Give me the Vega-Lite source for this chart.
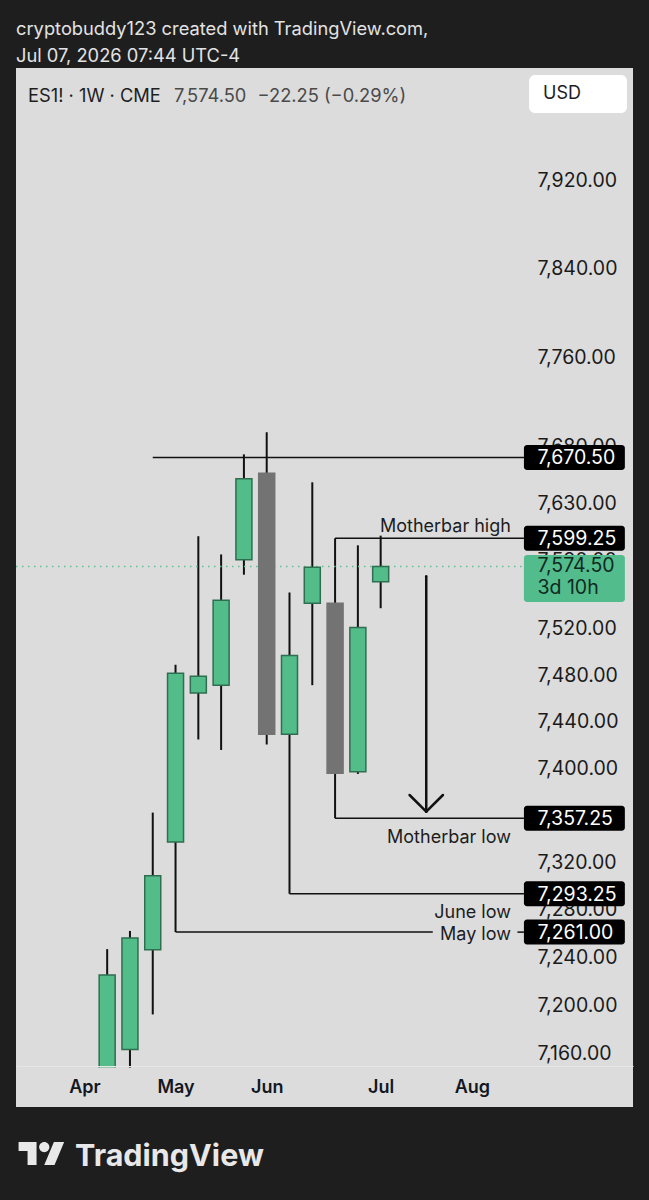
{
  "$schema": "https://vega.github.io/schema/vega-lite/v6.json",
  "width": 617,
  "height": 1039,
  "autosize": {"type": "none"},
  "padding": {"left": 16, "top": 68, "right": 16, "bottom": 93},
  "background": "#1e1e1e",
  "config": {"view": {"stroke": null, "fill": "#dcdcdc"}, "font": "Inter"},
  "title": {
    "text": ["cryptobuddy123 created with TradingView.com,", "Jul 07, 2026 07:44 UTC-4"],
    "anchor": "start",
    "frame": "group",
    "color": "#e3e3e3",
    "font": "Inter",
    "fontSize": 18.3,
    "fontWeight": "normal",
    "lineHeight": 26.7,
    "offset": 2
  },
  "data": {"values": [{}]},
  "datasets": {
    "candles": [
      {"date": "2026-04-13", "open": 7130.00, "high": 7246.75, "low": 7118.00, "close": 7225.00},
      {"date": "2026-04-20", "open": 7163.25, "high": 7262.00, "low": 7140.00, "close": 7256.00},
      {"date": "2026-04-27", "open": 7246.25, "high": 7362.00, "low": 7192.25, "close": 7308.50},
      {"date": "2026-05-04", "open": 7337.00, "high": 7489.00, "low": 7261.00, "close": 7481.50},
      {"date": "2026-05-11", "open": 7464.50, "high": 7601.00, "low": 7424.50, "close": 7479.00},
      {"date": "2026-05-18", "open": 7471.25, "high": 7585.00, "low": 7415.50, "close": 7545.00},
      {"date": "2026-05-25", "open": 7580.25, "high": 7673.25, "low": 7567.25, "close": 7651.75},
      {"date": "2026-06-01", "open": 7656.50, "high": 7693.00, "low": 7420.25, "close": 7429.00},
      {"date": "2026-06-08", "open": 7429.00, "high": 7551.75, "low": 7293.25, "close": 7497.00},
      {"date": "2026-06-15", "open": 7542.25, "high": 7648.50, "low": 7471.25, "close": 7573.75},
      {"date": "2026-06-22", "open": 7542.25, "high": 7599.25, "low": 7357.25, "close": 7395.50},
      {"date": "2026-06-29", "open": 7396.75, "high": 7593.00, "low": 7395.00, "close": 7521.25},
      {"date": "2026-07-06", "open": 7561.00, "high": 7601.50, "low": 7538.00, "close": 7574.50}
    ],
    "levels": [
      {"price": 7670.50, "from": "2026-04-27", "to": "2026-08-19"},
      {"price": 7599.25, "from": "2026-06-22", "to": "2026-08-19", "label": "Motherbar high"},
      {"price": 7357.25, "from": "2026-06-22", "to": "2026-08-19", "label": "Motherbar low"},
      {"price": 7293.25, "from": "2026-06-08", "to": "2026-08-19", "label": "June low"},
      {"price": 7261.00, "from": "2026-05-04", "to": "2026-07-22", "label": "May low"},
      {"price": 7261.00, "from": "2026-08-17", "to": "2026-08-19"}
    ],
    "pricetags": [
      {"price": 7670.50},
      {"price": 7599.25},
      {"price": 7357.25},
      {"price": 7293.25},
      {"price": 7261.00}
    ],
    "arrow": [
      {"x1": "2026-07-20T00:00:00Z", "y1": 7566.0, "x2": "2026-07-20T00:00:00Z", "y2": 7362.75},
      {"x1": "2026-07-14T21:00:00Z", "y1": 7377.0, "x2": "2026-07-20T00:00:00Z", "y2": 7362.75},
      {"x1": "2026-07-25T03:00:00Z", "y1": 7377.0, "x2": "2026-07-20T00:00:00Z", "y2": 7362.75}
    ]
  },
  "layer": [
    {
      "data": {"name": "candles"},
      "mark": {"type": "rule", "color": "#111111", "strokeWidth": 2},
      "encoding": {
        "x": {
          "field": "date", "type": "temporal",
          "scale": {"type": "utc", "padding": 0, "nice": false, "domain": [{"year": 2026, "month": "mar", "date": 16, "utc": true}, {"year": 2026, "month": "sep", "date": 21, "hours": 12, "utc": true}]},
          "axis": {
            "orient": "bottom", "offset": -41,
            "values": [
              {"year": 2026, "month": "apr", "date": 6, "utc": true},
              {"year": 2026, "month": "may", "date": 4, "utc": true},
              {"year": 2026, "month": "jun", "date": 1, "utc": true},
              {"year": 2026, "month": "jul", "date": 6, "utc": true},
              {"year": 2026, "month": "aug", "date": 3, "utc": true}
            ],
            "format": "%b", "formatType": "utc",
            "labelExpr": "utcFormat(datum.value, '%b')",
            "labelFont": "Inter", "labelFontSize": 18, "labelFontWeight": 600, "labelColor": "#131722",
            "ticks": false, "tickSize": 0, "labelPadding": 21, "labelBaseline": "middle",
            "labelOverlap": false, "labelFlush": false,
            "domain": true, "domainColor": "#e6e6e6", "domainWidth": 1, "grid": false, "zindex": 1,
            "title": "TradingView", "titleFont": "Inter", "titleFontSize": 30.5, "titleFontWeight": 700,
            "titleColor": "#e8e8e8", "titleAnchor": "start", "titleAlign": "left", "titleBaseline": "alphabetic",
            "titleX": 58.5, "titleY": 99
          }
        },
        "y": {
          "field": "low", "type": "quantitative",
          "scale": {"type": "log", "domain": [7115.7, 8023.7], "nice": false, "zero": false, "padding": 0},
          "axis": {
            "orient": "right", "offset": -111,
            "values": [7160, 7200, 7240, 7280, 7320, 7360, 7400, 7440, 7480, 7520, 7580, 7630, 7680, 7760, 7840, 7920],
            "format": ",.2f",
            "labelFont": "Inter", "labelFontSize": 19.5, "labelColor": "#1a1a1a",
            "ticks": false, "tickSize": 0, "labelPadding": 15, "labelAlign": "left", "labelBaseline": "middle",
            "labelOverlap": false, "labelFlush": false,
            "domain": false, "grid": false, "title": null, "zindex": 0
          }
        },
        "y2": {"field": "high"}
      }
    },
    {
      "mark": {"type": "rule", "color": "#5fbf93", "strokeWidth": 1.5, "strokeDash": [1.5, 4.5]},
      "encoding": {
        "x": {"datum": {"year": 2026, "month": "mar", "date": 16, "utc": true}, "type": "temporal"},
        "x2": {"datum": {"year": 2026, "month": "aug", "date": 19, "utc": true}},
        "y": {"datum": 7574.5, "type": "quantitative"}
      }
    },
    {
      "data": {"name": "levels"},
      "mark": {"type": "rule", "color": "#111111", "strokeWidth": 1.5},
      "encoding": {
        "x": {"field": "from", "type": "temporal"},
        "x2": {"field": "to"},
        "y": {"field": "price", "type": "quantitative"}
      }
    },
    {
      "data": {"name": "candles"},
      "mark": {"type": "bar", "width": 16, "strokeWidth": 1.5},
      "encoding": {
        "x": {"field": "date", "type": "temporal"},
        "y": {"field": "open", "type": "quantitative"},
        "y2": {"field": "close"},
        "fill": {"condition": {"test": "datum.close >= datum.open", "value": "#53bd8a"}, "value": "#737373"},
        "stroke": {"condition": {"test": "datum.close >= datum.open", "value": "#2f6e50"}, "value": "#737373"}
      }
    },
    {
      "data": {"name": "arrow"},
      "mark": {"type": "rule", "color": "#111111", "strokeWidth": 2.5, "strokeCap": "round"},
      "encoding": {
        "x": {"field": "x1", "type": "temporal"},
        "x2": {"field": "x2"},
        "y": {"field": "y1", "type": "quantitative"},
        "y2": {"field": "y2"}
      }
    },
    {
      "data": {"name": "levels"},
      "transform": [{"filter": "datum.label === 'Motherbar high'"}],
      "mark": {"type": "text", "align": "right", "baseline": "middle", "dy": -11.5, "fontSize": 18, "font": "Inter", "color": "#1c1c1c"},
      "encoding": {
        "x": {"datum": {"year": 2026, "month": "aug", "date": 15, "utc": true}, "type": "temporal"},
        "y": {"field": "price", "type": "quantitative"},
        "text": {"field": "label"}
      }
    },
    {
      "data": {"name": "levels"},
      "transform": [{"filter": "datum.label === 'Motherbar low' || datum.label === 'June low'"}],
      "mark": {"type": "text", "align": "right", "baseline": "middle", "dy": 19.5, "fontSize": 18, "font": "Inter", "color": "#1c1c1c"},
      "encoding": {
        "x": {"datum": {"year": 2026, "month": "aug", "date": 15, "utc": true}, "type": "temporal"},
        "y": {"field": "price", "type": "quantitative"},
        "text": {"field": "label"}
      }
    },
    {
      "data": {"name": "levels"},
      "transform": [{"filter": "datum.label === 'May low'"}],
      "mark": {"type": "text", "align": "right", "baseline": "middle", "dy": 3, "fontSize": 18, "font": "Inter", "color": "#1c1c1c"},
      "encoding": {
        "x": {"datum": {"year": 2026, "month": "aug", "date": 15, "utc": true}, "type": "temporal"},
        "y": {"field": "price", "type": "quantitative"},
        "text": {"field": "label"}
      }
    },
    {
      "mark": {"type": "bar", "fill": "#dcdcdc"},
      "encoding": {
        "x": {"datum": {"year": 2026, "month": "mar", "date": 16, "utc": true}, "type": "temporal"},
        "x2": {"datum": {"year": 2026, "month": "sep", "date": 21, "hours": 12, "utc": true}},
        "y": {"datum": 7148.3, "type": "quantitative"},
        "y2": {"datum": 7115.7}
      }
    },
    {
      "data": {"name": "pricetags"},
      "mark": {"type": "bar", "fill": "#000000", "height": 25, "cornerRadius": 3},
      "encoding": {
        "x": {"datum": {"year": 2026, "month": "aug", "date": 19, "utc": true}, "type": "temporal"},
        "x2": {"datum": {"year": 2026, "month": "sep", "date": 19, "utc": true}},
        "y": {"field": "price", "type": "quantitative"}
      }
    },
    {
      "data": {"name": "pricetags"},
      "mark": {"type": "text", "align": "left", "baseline": "middle", "dx": 13.5, "dy": 1, "fontSize": 19.5, "font": "Inter", "color": "#ffffff"},
      "encoding": {
        "x": {"datum": {"year": 2026, "month": "aug", "date": 19, "utc": true}, "type": "temporal"},
        "y": {"field": "price", "type": "quantitative"},
        "text": {"field": "price", "type": "quantitative", "format": ",.2f"}
      }
    },
    {
      "mark": {"type": "bar", "fill": "#52bc8c", "height": 47, "yOffset": 12, "cornerRadius": 3},
      "encoding": {
        "x": {"datum": {"year": 2026, "month": "aug", "date": 19, "utc": true}, "type": "temporal"},
        "x2": {"datum": {"year": 2026, "month": "sep", "date": 19, "utc": true}},
        "y": {"datum": 7574.5, "type": "quantitative"}
      }
    },
    {
      "mark": {"type": "text", "align": "left", "baseline": "middle", "dx": 13.5, "fontSize": 19.5, "font": "Inter", "color": "#102a1f"},
      "encoding": {
        "x": {"datum": {"year": 2026, "month": "aug", "date": 19, "utc": true}, "type": "temporal"},
        "y": {"datum": 7574.5, "type": "quantitative"},
        "text": {"value": "7,574.50"}
      }
    },
    {
      "mark": {"type": "text", "align": "left", "baseline": "middle", "dx": 13.5, "dy": 22, "fontSize": 19.5, "font": "Inter", "color": "#102a1f"},
      "encoding": {
        "x": {"datum": {"year": 2026, "month": "aug", "date": 19, "utc": true}, "type": "temporal"},
        "y": {"datum": 7574.5, "type": "quantitative"},
        "text": {"value": "3d 10h"}
      }
    },
    {
      "mark": {"type": "bar", "fill": "#ffffff", "height": 38, "cornerRadius": 6},
      "encoding": {
        "x": {"datum": {"year": 2026, "month": "aug", "date": 20, "hours": 14, "utc": true}, "type": "temporal"},
        "x2": {"datum": {"year": 2026, "month": "sep", "date": 19, "hours": 16, "utc": true}},
        "y": {"datum": 7999.6, "type": "quantitative"}
      }
    },
    {
      "mark": {"type": "text", "align": "left", "baseline": "middle", "dx": 14, "fontSize": 18, "font": "Inter", "color": "#1e1e1e"},
      "encoding": {
        "x": {"datum": {"year": 2026, "month": "aug", "date": 20, "hours": 14, "utc": true}, "type": "temporal"},
        "y": {"datum": 7999.6, "type": "quantitative"},
        "text": {"value": "USD"}
      }
    },
    {
      "mark": {"type": "text", "align": "left", "baseline": "middle", "dx": 12, "dy": 2, "fontSize": 18.3, "font": "Inter", "color": "#1e1e1e"},
      "encoding": {
        "x": {"datum": {"year": 2026, "month": "mar", "date": 16, "utc": true}, "type": "temporal"},
        "y": {"datum": 7999, "type": "quantitative"},
        "text": {"value": "ES1! · 1W · CME"}
      }
    },
    {
      "mark": {"type": "text", "align": "left", "baseline": "middle", "dx": 158, "dy": 2, "fontSize": 18.3, "font": "Inter", "color": "#4a4a4a"},
      "encoding": {
        "x": {"datum": {"year": 2026, "month": "mar", "date": 16, "utc": true}, "type": "temporal"},
        "y": {"datum": 7999, "type": "quantitative"},
        "text": {"value": "7,574.50"}
      }
    },
    {
      "mark": {"type": "text", "align": "left", "baseline": "middle", "dx": 241.5, "dy": 2, "fontSize": 18.3, "font": "Inter", "color": "#4a4a4a"},
      "encoding": {
        "x": {"datum": {"year": 2026, "month": "mar", "date": 16, "utc": true}, "type": "temporal"},
        "y": {"datum": 7999, "type": "quantitative"},
        "text": {"value": "−22.25 (−0.29%)"}
      }
    },
    {
      "mark": {
        "type": "point", "filled": true, "fill": "#e8e8e8", "strokeWidth": 0, "opacity": 1, "size": 2079,
        "shape": "M-0.2113,0.507H-0.6056V-0.1127H-1V-0.507H-0.2113Z M0.5775,0.507H0.1268L0.5493,-0.507H1Z M-0.0986,-0.2817A0.2254,0.2254 0 1 0 0.3522,-0.2817A0.2254,0.2254 0 1 0 -0.0986,-0.2817Z"
      },
      "encoding": {
        "x": {"datum": {"year": 2026, "month": "mar", "date": 23, "hours": 19, "utc": true}, "type": "temporal"},
        "y": {"datum": 7077.6, "type": "quantitative"}
      }
    }
  ]
}
